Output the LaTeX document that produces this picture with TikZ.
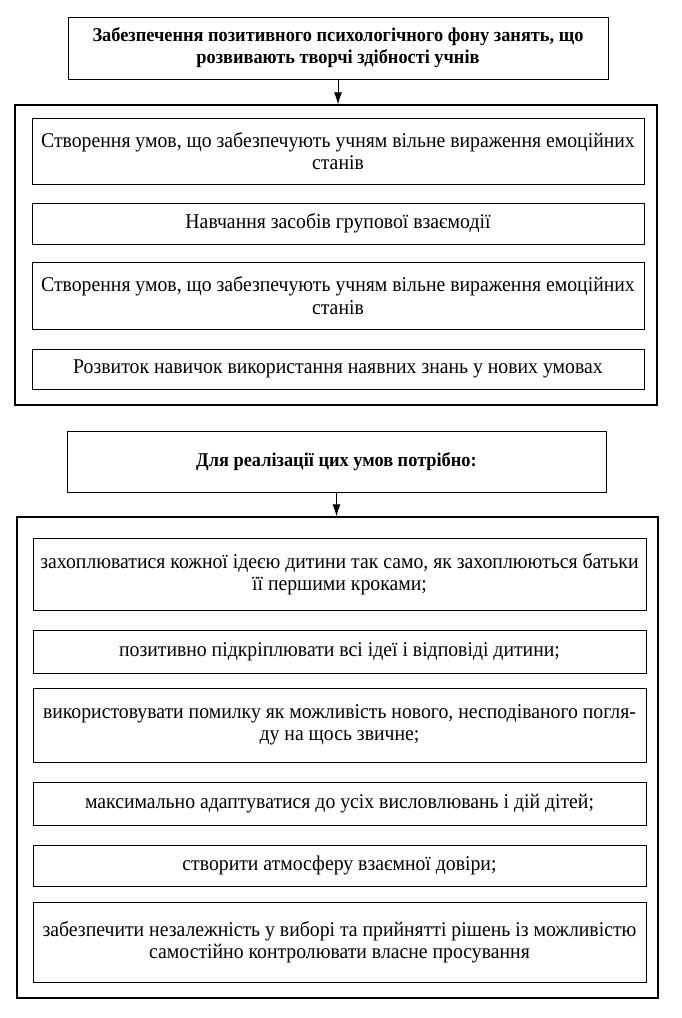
\documentclass[tikz,border=0pt]{standalone}
\usepackage{fontspec}
\setmainfont[FakeStretch=0.94]{Liberation Serif}
\usetikzlibrary{arrows.meta}
\tikzset{
  box/.style={draw=black, line width=1pt, inner sep=0pt, align=center,
    font=\fontsize{21}{22.5}\selectfont},
  headbox/.style={box, font=\bfseries\fontsize{19.5}{22}\selectfont},
  frame/.style={draw=black, line width=1.1pt, inner sep=0pt},
  link/.style={draw=black, line width=1pt, -{Latex[length=12pt,width=8pt]}}
}
\newcommand{\bx}[7]{% style, name, x1, y1, x2, y2, text
  \node[#1, minimum width={#5-#3}, minimum height={#6-#4}] (#2) at ({(#3+#5)/2},{(#4+#6)/2}) {#7};}
\begin{document}
\begin{tikzpicture}[x=1pt,y=-1pt]
\useasboundingbox (0,0) rectangle (682,1018);
\bx{headbox}{top}{68}{17}{608}{79}{Забезпечення позитивного психологічного фону занять, що\\розвивають творчі здібності учнів}
\bx{frame}{outerA}{15}{105}{657}{405}{}
\bx{box}{a1}{32}{118}{644}{184}{Створення умов, що забезпечують учням вільне вираження емоційних\\станів}
\bx{box}{a2}{32}{203}{644}{244}{Навчання засобів групової взаємодії}
\bx{box}{a3}{32}{262}{644}{329}{Створення умов, що забезпечують учням вільне вираження емоційних\\станів}
\bx{box}{a4}{32}{349}{644}{389}{Розвиток навичок використання наявних знань у нових умовах}
\bx{headbox}{mid}{67}{431}{606}{492}{Для реалізації цих умов потрібно:}
\bx{frame}{outerB}{17}{517}{658}{998}{}
\bx{box}{b1}{33}{538}{646}{610}{захоплюватися кожної ідеєю дитини так само, як захоплюються батьки\\її першими кроками;}
\bx{box}{b2}{33}{630}{646}{673}{позитивно підкріплювати всі ідеї і відповіді дитини;}
\bx{box}{b3}{33}{688}{646}{762}{використовувати помилку як можливість нового, несподіваного погля-\\ду на щось звичне;}
\bx{box}{b4}{33}{782}{646}{825}{максимально адаптуватися до усіх висловлювань і дій дітей;}
\bx{box}{b5}{33}{845}{646}{886}{створити атмосферу взаємної довіри;}
\bx{box}{b6}{33}{902}{646}{982}{забезпечити незалежність у виборі та прийнятті рішень із можливістю\\самостійно контролювати власне просування}
\draw[link] (top.south) -- (top.south |- outerA.north);
\draw[link] (mid.south) -- (mid.south |- outerB.north);
\end{tikzpicture}
\end{document}
